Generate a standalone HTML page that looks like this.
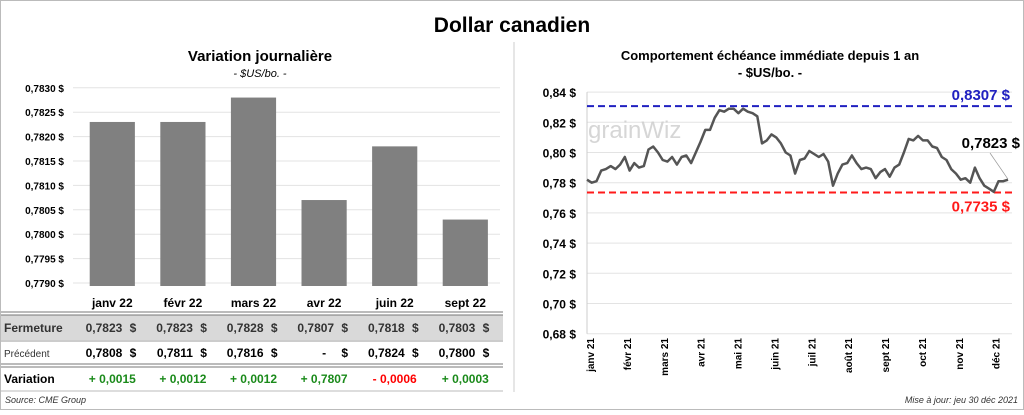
<!DOCTYPE html>
<html><head><meta charset="utf-8">
<style>
body{margin:0;width:1024px;height:410px;background:#fff;font-family:"Liberation Sans",sans-serif;overflow:hidden}
svg text{font-family:"Liberation Sans",sans-serif}
</style></head><body>
<svg id="s" width="1024" height="410">
<rect x="0.5" y="0.5" width="1023" height="409" fill="#fff" stroke="#bbb"/>
<text x="512" y="32" text-anchor="middle" font-size="21" font-weight="bold">Dollar canadien</text>
<text x="260" y="61" text-anchor="middle" font-size="15" font-weight="bold">Variation  journalière</text>
<text x="260" y="77" text-anchor="middle" font-size="11" font-style="italic">- $US/bo. -</text>
<text x="770" y="60" text-anchor="middle" font-size="13" font-weight="bold">Comportement échéance immédiate depuis 1 an</text>
<text x="770" y="77" text-anchor="middle" font-size="13" font-weight="bold">- $US/bo. -</text>
<line x1="514" y1="42" x2="514" y2="392" stroke="#ccc"/>
<g id="left"></g>
<g id="right"></g>
<g id="table"></g>
<text x="5" y="403" font-size="9" font-style="italic" fill="#333">Source: CME Group</text>
<text x="1018" y="403" text-anchor="end" font-size="9" font-style="italic" fill="#333">Mise à jour: jeu 30 déc 2021</text>
</svg>
<script>
const barCats=["janv 22","févr 22","mars 22","avr 22","juin 22","sept 22"];
const barVals=[0.7823,0.7823,0.7828,0.7807,0.7818,0.7803];
const prevVals=["0,7808","0,7811","0,7816","-","0,7824","0,7800"];
const varVals=["+ 0,0015","+ 0,0012","+ 0,0012","+ 0,7807","- 0,0006","+ 0,0003"];
const leftTicks=[0.7790,0.7795,0.7800,0.7805,0.7810,0.7815,0.7820,0.7825,0.7830];
const lineVals=[0.782,0.780,0.781,0.788,0.789,0.791,0.789,0.792,0.797,0.788,0.793,0.790,0.791,0.802,0.804,0.800,0.795,0.794,0.797,0.792,0.797,0.798,0.793,0.800,0.807,0.815,0.815,0.823,0.828,0.827,0.829,0.829,0.826,0.829,0.827,0.826,0.824,0.806,0.808,0.812,0.810,0.806,0.800,0.798,0.786,0.795,0.796,0.801,0.799,0.797,0.799,0.794,0.778,0.786,0.792,0.793,0.798,0.793,0.789,0.790,0.789,0.783,0.787,0.789,0.784,0.790,0.792,0.800,0.809,0.808,0.811,0.808,0.808,0.804,0.803,0.797,0.795,0.789,0.786,0.782,0.783,0.780,0.790,0.783,0.778,0.776,0.774,0.781,0.781,0.782];
const rightTicks=[0.68,0.70,0.72,0.74,0.76,0.78,0.80,0.82,0.84];
const monthLabels=["janv 21","févr 21","mars 21","avr 21","mai 21","juin 21","juil 21","août 21","sept 21","oct 21","nov 21","déc 21"];
const hiVal=0.8307, loVal=0.7735, lastVal=0.7823;
const NS="http://www.w3.org/2000/svg";
function mk(p,t,a,txt){const e=document.createElementNS(NS,t);for(const k in a)e.setAttribute(k,a[k]);if(txt!==undefined)e.textContent=txt;p.appendChild(e);return e;}
const fmt=(v,d)=>v.toFixed(d).replace('.',',');
// left chart
const L=document.getElementById('left');
const ly=v=>283-(v-0.7790)/0.0005*24.4;
const bx0=77,bw=70.6;
leftTicks.forEach(t=>{
 const g=mk(L,'line',{x1:bx0-4,x2:500,y1:ly(t),y2:ly(t),stroke:'#e3e3e3'});
 
 const tx=mk(L,'text',{x:64,y:ly(t)+4,'text-anchor':'end','font-size':10,'font-weight':'bold'},fmt(t,4)+' $');
 
});
barVals.forEach((v,i)=>{
 const x=bx0+i*bw+bw*0.18;
 const r=mk(L,'rect',{x:x,y:ly(v),width:bw*0.64,height:283-ly(v)+3,fill:'#808080'});
 
});
// table
const T=document.getElementById('table');
const cx=i=>bx0+i*bw+bw/2;
mk(T,'rect',{x:1,y:315,width:502,height:25,fill:'#d9d9d9'});
[[312,'#777'],[315,'#777'],[341,'#999'],[364,'#777'],[367,'#777'],[391,'#bbb']].forEach(a=>mk(T,'line',{x1:1,x2:503,y1:a[0],y2:a[0],stroke:a[1]}));
const r1=mk(T,'text',{x:4,y:332,'font-size':12,'font-weight':'bold',fill:'#333'},'Fermeture');
const r2=mk(T,'text',{x:4,y:357,'font-size':10,fill:'#333'},'Précédent');
const r3=mk(T,'text',{x:4,y:383,'font-size':12,'font-weight':'bold'},'Variation');
barCats.forEach((c,i)=>{
 const h=mk(T,'text',{x:cx(i),y:307,'text-anchor':'middle','font-size':12,'font-weight':'bold'},c);
 
 const f=mk(T,'text',{x:cx(i)+10,y:332,'text-anchor':'end','font-size':12,'font-weight':'bold',fill:'#333'},fmt(barVals[i],4));
 
 mk(T,'text',{x:cx(i)+24,y:332,'text-anchor':'end','font-size':12,'font-weight':'bold',fill:'#333'},'$');
 const p=mk(T,'text',{x:prevVals[i]=='-'?cx(i)+2:cx(i)+10,y:357,'text-anchor':'end','font-size':12,'font-weight':'bold'},prevVals[i]);
 
 mk(T,'text',{x:cx(i)+24,y:357,'text-anchor':'end','font-size':12,'font-weight':'bold'},'$');
 const vv=mk(T,'text',{x:cx(i),y:383,'text-anchor':'middle','font-size':12,'font-weight':'bold',fill:varVals[i][0]=='-'?'#ff0000':'#1a8a1a'},varVals[i]);
 
});
// right chart
const R=document.getElementById('right');
const px0=587,px1=1008;
const ry=v=>182.7-(v-0.78)/0.02*30.2;
rightTicks.forEach(t=>{
 const g=mk(R,'line',{x1:px0,x2:1012,y1:ry(t),y2:ry(t),stroke:'#e3e3e3'});
 
 const tx=mk(R,'text',{x:576,y:ry(t)+5,'text-anchor':'end','font-size':12,'font-weight':'bold'},fmt(t,2)+' $');
 
});
mk(R,'line',{x1:px0,x2:px0,y1:ry(0.84),y2:ry(0.68),stroke:'#ccc'});
monthLabels.forEach((m,i)=>{
 const x=px0+3+i*(px1-px0-8)/11.2;
 const t=mk(R,'text',{transform:`translate(${x+4},338) rotate(-90)`,'text-anchor':'end','font-size':10,'font-weight':'bold'},m);
 
});
const wm=mk(R,'text',{x:588,y:138,'font-size':24,fill:'#ccc','opacity':0.8},'grainWiz');

const hl=mk(R,'line',{x1:px0,x2:1012,y1:ry(hiVal),y2:ry(hiVal),stroke:'#2020c0','stroke-width':2,'stroke-dasharray':'7,4'});

const ll=mk(R,'line',{x1:px0,x2:1012,y1:ry(loVal),y2:ry(loVal),stroke:'#ff1a1a','stroke-width':2,'stroke-dasharray':'7,4'});

const n=lineVals.length;
const d=lineVals.map((v,i)=>(i?'L':'M')+(px0+i*(px1-px0)/(n-1)).toFixed(1)+','+ry(v).toFixed(1)).join('');
const pl=mk(R,'path',{d:d,fill:'none',stroke:'#555','stroke-width':2.5,'stroke-linejoin':'round'});

const hi=mk(R,'text',{x:1010,y:ry(hiVal)-6,'text-anchor':'end','font-size':15,'font-weight':'bold',fill:'#2020c0'},fmt(hiVal,4)+' $');

const lo=mk(R,'text',{x:1010,y:ry(loVal)+19,'text-anchor':'end','font-size':15,'font-weight':'bold',fill:'#ff1a1a'},fmt(loVal,4)+' $');

mk(R,'line',{x1:990,y1:153,x2:px1,y2:ry(lastVal),stroke:'#999','stroke-width':0.7});
const la=mk(R,'text',{x:1020,y:148,'text-anchor':'end','font-size':15,'font-weight':'bold'},fmt(lastVal,4)+' $');

</script>
</body></html>
